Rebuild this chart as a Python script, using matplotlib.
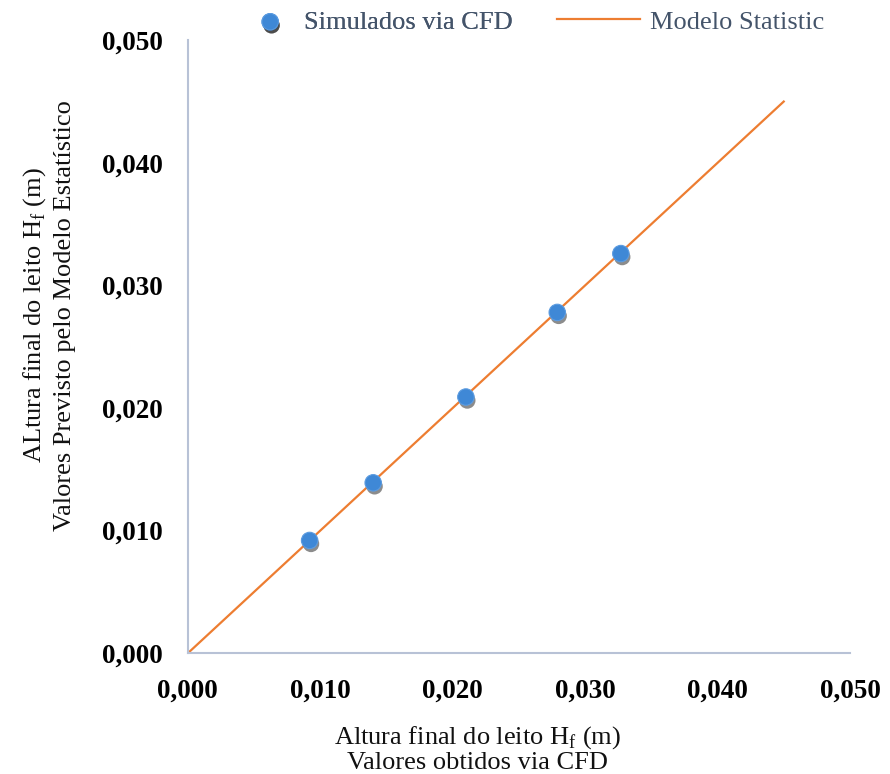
import matplotlib.pyplot as plt
import matplotlib.patheffects as pe

plt.rcParams['font.family'] = ['Liberation Serif', 'DejaVu Serif']
plt.rcParams['mathtext.fontset'] = 'custom'
plt.rcParams['mathtext.rm'] = 'Liberation Serif'

# dados
cfd_x = [0.0092, 0.0140, 0.0210, 0.0279, 0.0327]
cfd_y = [0.0092, 0.0139, 0.0209, 0.0278, 0.0326]
modelo_x = [0.0, 0.045]
modelo_y = [0.0, 0.045]
ticks = [0.0, 0.01, 0.02, 0.03, 0.04, 0.05]
tick_labels = ['0,000', '0,010', '0,020', '0,030', '0,040', '0,050']

fig = plt.figure(figsize=(8.9, 7.74), dpi=100)
ax = fig.add_axes([0.211, 0.156, 0.744, 0.792])

ln, = ax.plot(modelo_x, modelo_y, color='#ed7d31', lw=1.6, label='Modelo Statistic', zorder=2)
sc = ax.scatter(cfd_x, cfd_y, s=140, color='#3f88d6', edgecolors='#5b9be0', linewidths=0.8,
                label='Simulados via CFD', zorder=3,
                path_effects=[pe.SimplePatchShadow(offset=(1, -2.5), alpha=0.45, shadow_rgbFace='black'), pe.Normal()])

ax.set_xlim(0, 0.05)
ax.set_ylim(0, 0.05)
ax.set_xticks(ticks)
ax.set_yticks(ticks)
ax.set_xticklabels(tick_labels, fontsize=19.5, fontweight='bold')
ax.set_yticklabels(tick_labels, fontsize=19.5, fontweight='bold')
ax.tick_params(length=0, pad=18)

for s in ['top', 'right']:
    ax.spines[s].set_visible(False)
for s in ['left', 'bottom']:
    ax.spines[s].set_color('#b8c2d6')
    ax.spines[s].set_linewidth(1.5)

ax.set_xlabel('Altura final do leito H$_\\mathregular{f}$ (m)\nValores obtidos via CFD',
              fontsize=19, color='#111111', labelpad=15, linespacing=1.05, x=0.437)
ax.set_ylabel('ALtura final do leito H$_\\mathregular{f}$ (m)\nValores Previsto pelo Modelo Estatístico',
              fontsize=19, color='#111111', labelpad=19, linespacing=1.3, y=0.551)

leg1 = fig.legend([sc], ['Simulados via CFD'], loc='center left', bbox_to_anchor=(257 / 890, 1 - 22 / 774),
                  frameon=False, fontsize=19, handlelength=1.0, handletextpad=0.77,
                  borderpad=0, borderaxespad=0)
leg2 = fig.legend([ln], ['Modelo Statistic'], loc='center left', bbox_to_anchor=(557 / 890, 1 - 22 / 774),
                  frameon=False, fontsize=19, handlelength=3.15, handletextpad=0.38,
                  borderpad=0, borderaxespad=0)
fig.add_artist(leg1)
for leg in (leg1, leg2):
    for t in leg.get_texts():
        t.set_color('#44546a')

fig.savefig('out.png', dpi=100)
